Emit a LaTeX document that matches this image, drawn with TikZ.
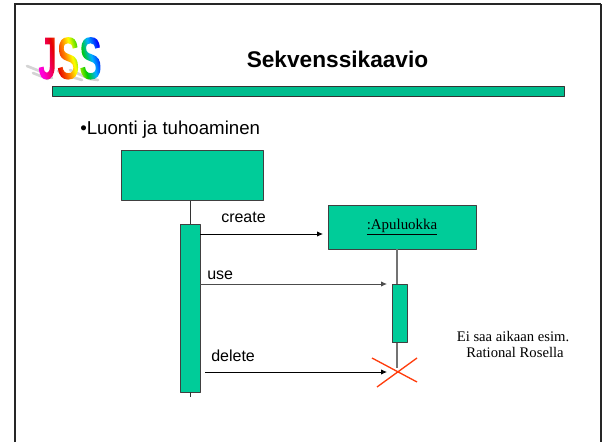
\documentclass[tikz,border=0pt]{standalone}
\usepackage{fontspec}
\setmainfont{Liberation Sans}
\newfontfamily\timesfont{Liberation Serif}
\newfontfamily\logofont[FakeStretch=0.56]{Liberation Sans}
\usetikzlibrary{shadings,arrows.meta}
\definecolor{boxgreen}{HTML}{00CC99}
\definecolor{bargreen}{HTML}{00BD8E}
\definecolor{crossred}{HTML}{FF3D0D}
\pgfdeclarehorizontalshading{jssrainbow}{100bp}{
color(0bp)=(magenta!85!red); color(25bp)=(magenta!85!red); color(38bp)=(red!90!black);
color(46bp)=(orange); color(52bp)=(yellow); color(60bp)=(green!80!black);
color(67bp)=(cyan!70!blue); color(75bp)=(blue); color(100bp)=(violet)}
\newsavebox{\jssbox}
\tikzset{
  classbox/.style={draw=black!75,fill=boxgreen,line width=0.7pt,inner sep=0pt,minimum width=#1},
  actbar/.style={draw=black!75,fill=boxgreen,line width=0.7pt,inner sep=0pt,minimum width=#1},
  msglabel/.style={anchor=base west,inner sep=0pt,font=\fontsize{12}{14}\selectfont},
  noteline/.style={inner sep=0pt,anchor=base,font=\timesfont\fontsize{11}{13}\selectfont},
}
\begin{document}
\sbox{\jssbox}{\logofont\bfseries\fontsize{45}{45}\selectfont JSS}
\begin{tikzpicture}[x=0.75pt,y=-0.75pt,>={Latex[length=4.5pt,width=4pt]},line join=round]
\useasboundingbox (0,0) rectangle (602,442);
% kehys
\draw[line width=1.5pt,black!85] (15,442)--(15,4.5);
\draw[line width=1.5pt,black!85] (14,4.5)--(601,4.5);
\draw[line width=0.8pt,black!85] (601,4)--(601,442);
% logo
\draw[black!17,line width=2pt,line cap=round] (27,66)--(42,72)--(52,78) (33,73)--(48,79) (58,71)--(72,77)--(82,80) (70,70)--(90,79)--(98,80);
\node[anchor=base west,inner sep=0pt] (logo) at (38,79) {\special{pdf:code q 7 Tr}\usebox{\jssbox}\special{pdf:code 0 Tr}\kern-\wd\jssbox\tikz[baseline=0pt]\shade[shading=jssrainbow,shading angle=14] (0pt,-3pt) rectangle (\wd\jssbox,36pt);\special{pdf:code Q}};
% otsikko
\node[anchor=base,inner sep=0pt,font=\bfseries\fontsize{17}{20}\selectfont] (title) at (337.5,68) {Sekvenssikaavio};
\node[draw=black!80,fill=bargreen,line width=0.8pt,inner sep=0pt,minimum width=383.5pt,minimum height=7.5pt] (titlebar) at (308.5,91.5) {};
\node[anchor=base west,inner sep=0pt,font=\fontsize{14}{16}\selectfont] (subtitle) at (80,134) {•Luonti ja tuhoaminen};
% oliot
\node[classbox=107pt,minimum height=37pt] (mainbox) at (192.5,175.5) {};
\node[actbar=15pt,minimum height=126pt] (mainbar) at (190,308) {};
\node[classbox=111pt,minimum height=33pt] (apubox) at (402,227) {\timesfont\fontsize{11.2}{13}\selectfont\underline{:Apuluokka}};
\node[actbar=11.25pt,minimum height=44pt] (apubar) at (399.5,313.5) {};
\coordinate (maintail) at (190,397);
\coordinate (apulife) at (397,368);
\draw[black!80,line width=0.7pt] (mainbox.south-|mainbar.north)--(mainbar.north);
\draw[black!80,line width=0.5pt] (mainbar.south)--(maintail);
\draw[black!55,line width=0.9pt] (apubox.south-|apulife)--(apubar.north-|apulife);
\draw[black!55,line width=0.9pt] (apubar.south-|apulife)--(apulife);
% viestit
\coordinate (createfrom) at (200,234);
\coordinate (createtip) at (323,234);
\coordinate (usefrom) at (200,284);
\coordinate (usetip) at (387,284);
\coordinate (deletefrom) at (205,372);
\coordinate (deletetip) at (387,372);
\draw[->,line width=0.6pt] (createfrom)--(createtip);
\draw[->,line width=0.7pt,black!70] (usefrom)--(usetip);
\draw[->,line width=0.6pt] (deletefrom)--(deletetip);
\node[msglabel] (createlabel) at (221,222) {create};
\node[msglabel] (uselabel) at (207,279) {use};
\node[msglabel] (deletelabel) at (211,361) {delete};
% risti
\draw[crossred,line width=1pt] (372,358)--(417,382) (377,387)--(417,358);
% huomautus
\node[noteline] (noteone) at (513,341) {Ei saa aikaan esim.};
\node[noteline] (notetwo) at (515,357) {Rational Rosella};
\end{tikzpicture}
\end{document}
